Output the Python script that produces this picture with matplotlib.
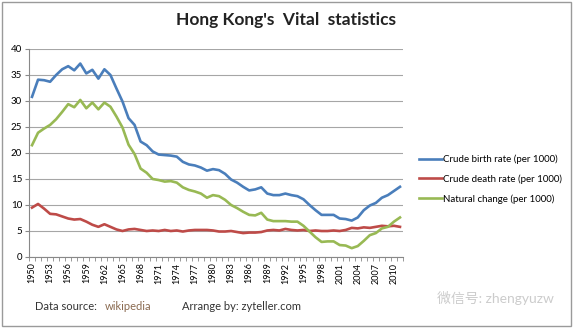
import numpy as np
import matplotlib.pyplot as plt
from matplotlib.patches import Rectangle

plt.rcParams['font.family'] = ['Lato', 'Noto Sans CJK SC', 'DejaVu Sans']

years = list(range(1950, 2012))

birth_rate = [30.8, 34.1, 34.0, 33.7, 35.0, 36.1, 36.7, 35.9, 37.2, 35.3,
              36.0, 34.3, 36.1, 35.0, 32.4, 29.9, 26.7, 25.4, 22.2, 21.5,
              20.3, 19.7, 19.6, 19.5, 19.3, 18.3, 17.8, 17.6, 17.2, 16.6,
              16.9, 16.7, 16.0, 14.9, 14.3, 13.5, 12.8, 13.0, 13.4, 12.2,
              11.9, 11.9, 12.2, 11.9, 11.7, 11.1, 10.0, 9.0, 8.1, 8.1,
              8.1, 7.4, 7.3, 7.0, 7.6, 9.0, 9.9, 10.4, 11.4, 11.9,
              12.7, 13.5]

death_rate = [9.5, 10.2, 9.3, 8.3, 8.2, 7.8, 7.4, 7.2, 7.3, 6.8,
              6.2, 5.8, 6.3, 5.8, 5.3, 5.0, 5.3, 5.4, 5.2, 5.0,
              5.1, 5.0, 5.2, 5.0, 5.1, 4.9, 5.1, 5.2, 5.2, 5.2,
              5.1, 4.9, 4.9, 5.0, 4.8, 4.6, 4.7, 4.7, 4.8, 5.1,
              5.2, 5.1, 5.4, 5.2, 5.1, 5.2, 5.0, 5.1, 5.0, 5.0,
              5.1, 5.0, 5.2, 5.6, 5.5, 5.7, 5.6, 5.8, 6.0, 5.9,
              6.0, 5.8]

natural_change = [21.5, 23.9, 24.7, 25.4, 26.5, 27.9, 29.4, 28.8, 30.2, 28.6,
                  29.7, 28.4, 29.7, 28.9, 27.0, 24.9, 21.6, 19.8, 17.0, 16.2,
                  15.0, 14.8, 14.5, 14.6, 14.3, 13.4, 12.9, 12.6, 12.2, 11.4,
                  11.9, 11.7, 11.0, 10.0, 9.4, 8.7, 8.1, 8.0, 8.5, 7.2,
                  6.9, 6.9, 6.9, 6.8, 6.8, 6.0, 4.9, 3.8, 2.9, 3.0,
                  3.0, 2.3, 2.2, 1.7, 2.1, 3.1, 4.2, 4.6, 5.5, 5.8,
                  6.8, 7.6]

series_names = ['Crude birth rate (per 1000)', 'Crude death rate (per 1000)',
                'Natural change (per 1000)']
series_colors = ['#4A7EBB', '#BE4B48', '#98B954']

fig = plt.figure(figsize=(5.73, 3.28), dpi=100)
ax = fig.add_axes([29 / 573, 1 - 257 / 328, 374 / 573, 208 / 328])

for vals, name, col in zip([birth_rate, death_rate, natural_change], series_names, series_colors):
    ax.plot(years, vals, color=col, linewidth=1.9, label=name, solid_joinstyle='round')

ax.set_ylim(0, 40)
ax.set_yticks(range(0, 45, 5))
ax.set_xlim(1949.5, 2011.5)
ax.set_xticks(years[::3])
ax.set_xticklabels([str(y) for y in years[::3]], rotation=90, fontsize=6.5)
ax.set_xticks(np.arange(1949.5, 2012, 1), minor=True)
ax.tick_params(axis='x', which='major', length=0, pad=4)
ax.tick_params(axis='x', which='minor', length=3, color='#888888')
ax.tick_params(axis='y', length=3, color='#888888', labelsize=7, pad=2)
ax.grid(axis='y', color='#a6a6a6', linewidth=0.8)
ax.set_axisbelow(True)
for side in ['top', 'right']:
    ax.spines[side].set_visible(False)
for side in ['left', 'bottom']:
    ax.spines[side].set_color('#888888')
    ax.spines[side].set_linewidth(0.8)

fig.legend(loc='center left', bbox_to_anchor=(415 / 573, 1 - 179 / 328), frameon=False,
           fontsize=7, handlelength=2.4, handletextpad=0.05, labelspacing=1.05,
           borderaxespad=0)

fig.text(286 / 573, 1 - 20 / 328, "Hong Kong's  Vital  statistics", ha='center', va='center',
         fontsize=12.5, fontweight='bold', color='#222222')
fig.text(35 / 573, 1 - 307 / 328, 'Data source:', ha='left', va='center', fontsize=8, color='#333333')
fig.text(105 / 573, 1 - 307 / 328, 'wikipedia', ha='left', va='center', fontsize=8, color='#8a6a50')
fig.text(182 / 573, 1 - 307 / 328, 'Arrange by: zyteller.com', ha='left', va='center', fontsize=8,
         color='#333333')
fig.text(437 / 573, 1 - 298 / 328, '微信号: zhengyuzw', ha='left', va='center', fontsize=10,
         color='#cccccc')

fig.patches.append(Rectangle((2 / 573, 2 / 328), 569 / 573, 324 / 328, transform=fig.transFigure,
                             fill=False, edgecolor='#9a9a9a', linewidth=1))

fig.savefig('out.png', dpi=100)
